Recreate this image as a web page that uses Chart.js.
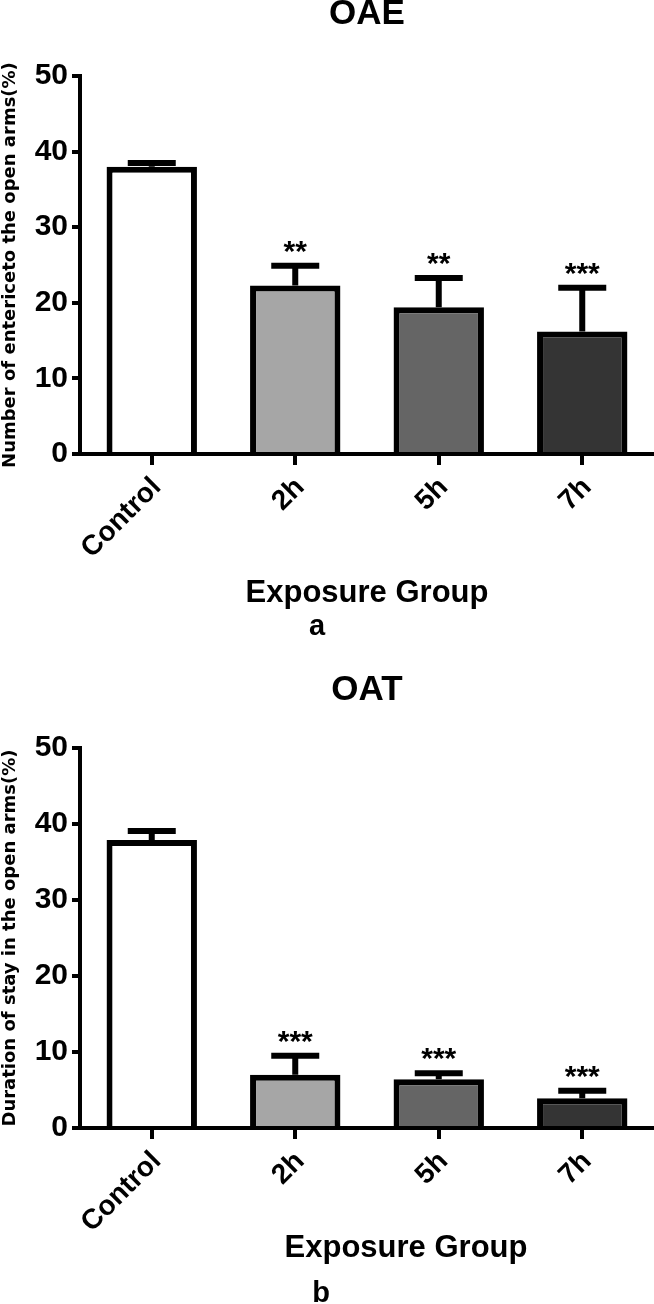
<!DOCTYPE html>
<html>
<head>
<meta charset="utf-8">
<script src="https://cdn.jsdelivr.net/npm/chart.js@4.4.1/dist/chart.umd.min.js"></script>
<style>
  body { margin: 0; background: #fff; }
  canvas { display: block; }
</style>
</head>
<body>
<canvas id="oaeChart" width="654" height="652"></canvas>
<canvas id="oatChart" width="654" height="652"></canvas>
<script>
// data
var groups = ['Control', '2h', '5h', '7h'];

var oaeMean = [38.0, 22.3, 19.4, 16.2];
var oaeErr = [0.5, 2.6, 3.9, 5.8];
var oaeStars = ['', '**', '**', '***'];

var oatMean = [37.9, 7.0, 6.4, 3.9];
var oatErr = [1.2, 2.5, 0.8, 1.0];
var oatStars = ['', '***', '***', '***'];

var yMax = 50;
var yStep = 10;

var SANS = "'Liberation Sans', Arial, sans-serif";

// error bars, stars, x title and panel letter
var extras = {
  id: 'extras',
  afterDatasetsDraw: function(chart, args, opts) {
    var ctx = chart.ctx;
    var y = chart.scales.y;
    var meta = chart.getDatasetMeta(0);
    ctx.save();
    ctx.strokeStyle = '#000';
    ctx.fillStyle = '#000';
    ctx.lineWidth = 6;
    meta.data.forEach(function(bar, i) {
      var top = y.getPixelForValue(opts.means[i]);
      var capY = y.getPixelForValue(opts.means[i] + opts.errs[i]);
      ctx.beginPath();
      ctx.moveTo(bar.x, top);
      ctx.lineTo(bar.x, capY);
      ctx.moveTo(bar.x - 24, capY);
      ctx.lineTo(bar.x + 24, capY);
      ctx.stroke();
      if (opts.stars[i]) {
        ctx.font = 'bold 30px ' + SANS;
        ctx.textAlign = 'center';
        ctx.textBaseline = 'alphabetic';
        ctx.fillText(opts.stars[i], bar.x, capY - 5);
      }
    });
    ctx.textAlign = 'center';
    ctx.textBaseline = 'alphabetic';
    ctx.font = 'bold 31px ' + SANS;
    ctx.fillText('Exposure Group', opts.xTitleX, opts.xTitleY);
    ctx.font = 'bold 29px ' + SANS;
    ctx.fillText(opts.letter, opts.letterX, opts.letterY);
    ctx.restore();
  }
};

function makePanel(canvasId, title, yTitle, means, errs, stars, p) {
  var ctx = document.getElementById(canvasId).getContext('2d');
  return new Chart(ctx, {
    type: 'bar',
    data: {
      labels: groups,
      datasets: [{
        data: means,
        backgroundColor: ['#ffffff', '#a6a6a6', '#656565', '#343434'],
        borderColor: '#000',
        borderWidth: 6,
        barPercentage: 0.63,
        categoryPercentage: 1
      }]
    },
    options: {
      responsive: false,
      animation: false,
      devicePixelRatio: 1,
      layout: { padding: { top: p.padTop, left: 0, right: 0, bottom: 0 }, autoPadding: false },
      plugins: {
        legend: { display: false },
        tooltip: { enabled: false },
        title: {
          display: true,
          text: title,
          fullSize: false,
          color: '#000',
          font: { family: SANS, size: 35, weight: 'bold', lineHeight: 0.83 },
          padding: { top: 0, bottom: p.titleGap }
        },
        extras: {
          means: means, errs: errs, stars: stars,
          xTitleX: p.xTitleX, xTitleY: p.xTitleY,
          letter: p.letter, letterX: p.letterX, letterY: p.letterY
        }
      },
      scales: {
        x: {
          offset: true,
          grid: { display: true, drawOnChartArea: false, offset: false, color: '#000', lineWidth: 4, tickLength: 11 },
          border: { display: true, color: '#000', width: 4 },
          ticks: {
            color: '#000',
            font: { family: SANS, size: 28, weight: 'bold' },
            minRotation: 45,
            maxRotation: 45,
            padding: 6,
            labelOffset: 5,
            autoSkip: false
          },
          afterFit: function(scale) { scale.height = p.xHeight; }
        },
        y: {
          min: 0,
          max: yMax,
          grid: { display: true, drawOnChartArea: false, color: '#000', lineWidth: 4, tickLength: 8 },
          border: { display: true, color: '#000', width: 4 },
          ticks: {
            stepSize: yStep,
            color: '#000',
            padding: 4,
            font: { family: SANS, size: 30, weight: 'bold' }
          },
          title: {
            display: true,
            text: yTitle,
            color: '#000',
            padding: 0,
            font: { family: "'DejaVu Sans', sans-serif", size: 18, weight: 'bold' }
          },
          afterFit: function(scale) { scale.width = 80; }
        }
      }
    },
    plugins: [extras]
  });
}

makePanel('oaeChart', 'OAE', 'Number of entericeto the open arms(%)', oaeMean, oaeErr, oaeStars, {
  padTop: 0, titleGap: 47, xHeight: 198,
  xTitleX: 367, xTitleY: 602,
  letter: 'a', letterX: 317, letterY: 635
});

makePanel('oatChart', 'OAT', 'Duration of stay in the open arms(%)', oatMean, oatErr, oatStars, {
  padTop: 24, titleGap: 43, xHeight: 176,
  xTitleX: 406, xTitleY: 605,
  letter: 'b', letterX: 321, letterY: 650
});
</script>
</body>
</html>
